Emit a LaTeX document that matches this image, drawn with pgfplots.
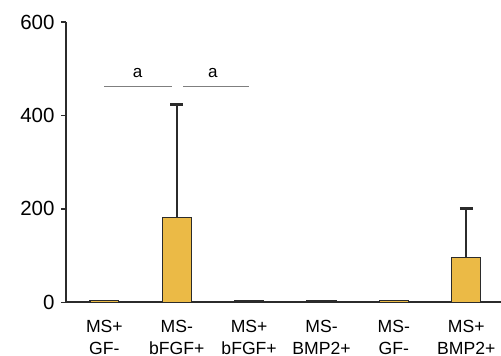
\documentclass[border=0pt]{standalone}
\usepackage{fontspec}
\setmainfont{Liberation Sans}
\usepackage{pgfplots}
\pgfplotsset{compat=1.18}
\usetikzlibrary{calc}
\definecolor{barfill}{HTML}{EBBA46}
\definecolor{baredge}{HTML}{2B2B2B}
\definecolor{siggray}{HTML}{7F7F7F}
\begin{document}
\begin{tikzpicture}
\begin{axis}[
  scale only axis,
  width=435bp, height=280.3bp,
  xmin=-0.53, xmax=5.48,
  ymin=0, ymax=600,
  axis x line=bottom, axis y line=left,
  axis line style={-, line width=1.7bp, color=baredge},
  ytick={0,200,400,600},
  xtick={0,1,2,3,4,5},
  xticklabels={{MS+\\GF-},{MS-\\bFGF+},{MS+\\bFGF+},{MS-\\BMP2+},{MS-\\GF-},{MS+\\BMP2+}},
  x tick label style={align=center, font=\fontsize{17.6bp}{22.6bp}\selectfont, yshift=-9bp},
  y tick label style={font=\fontsize{20.5bp}{24bp}\selectfont, xshift=-3bp},
  /pgf/number format/assume math mode=true,
  yticklabel={\pgfmathprintnumber{\tick}},
  major x tick style={draw=none},
  major y tick style={line width=1.4bp, color=baredge},
  major tick length=5bp,
  tick align=outside,
  clip=false,
]
\coordinate (bl) at (rel axis cs:0,0);
\coordinate (tr) at (rel axis cs:1,1);
\addplot[ybar, bar width=0.4, bar shift=0pt, fill=barfill, draw=baredge, line width=1.3bp]
  coordinates {(0,4) (2,3) (3,3) (4,4)};
\addplot[ybar, bar width=0.4, bar shift=0pt, fill=barfill, draw=baredge, line width=1.3bp,
  error bars/.cd, y dir=plus, y explicit,
  error bar style={line width=2.4bp, color=baredge},
  error mark options={line width=2.6bp, mark size=6.3bp, rotate=90, color=baredge}]
  coordinates {
  (1,181) +- (0,242)
  (5,96) +- (0,105)
};
\addplot[siggray, line width=1.3bp, mark=none] coordinates {(0,462) (0.93,462)};
\addplot[siggray, line width=1.3bp, mark=none] coordinates {(1.09,462) (2.0,462)};
\node[font=\fontsize{17bp}{20bp}\selectfont, anchor=base] at (axis cs:0.46,481) {a};
\node[font=\fontsize{17bp}{20bp}\selectfont, anchor=base] at (axis cs:1.50,481) {a};
\end{axis}
\pgfresetboundingbox
\useasboundingbox ($(bl)+(-66bp,-53.7bp)$) rectangle ($(tr)+(0bp,22bp)$);
\end{tikzpicture}
\end{document}
